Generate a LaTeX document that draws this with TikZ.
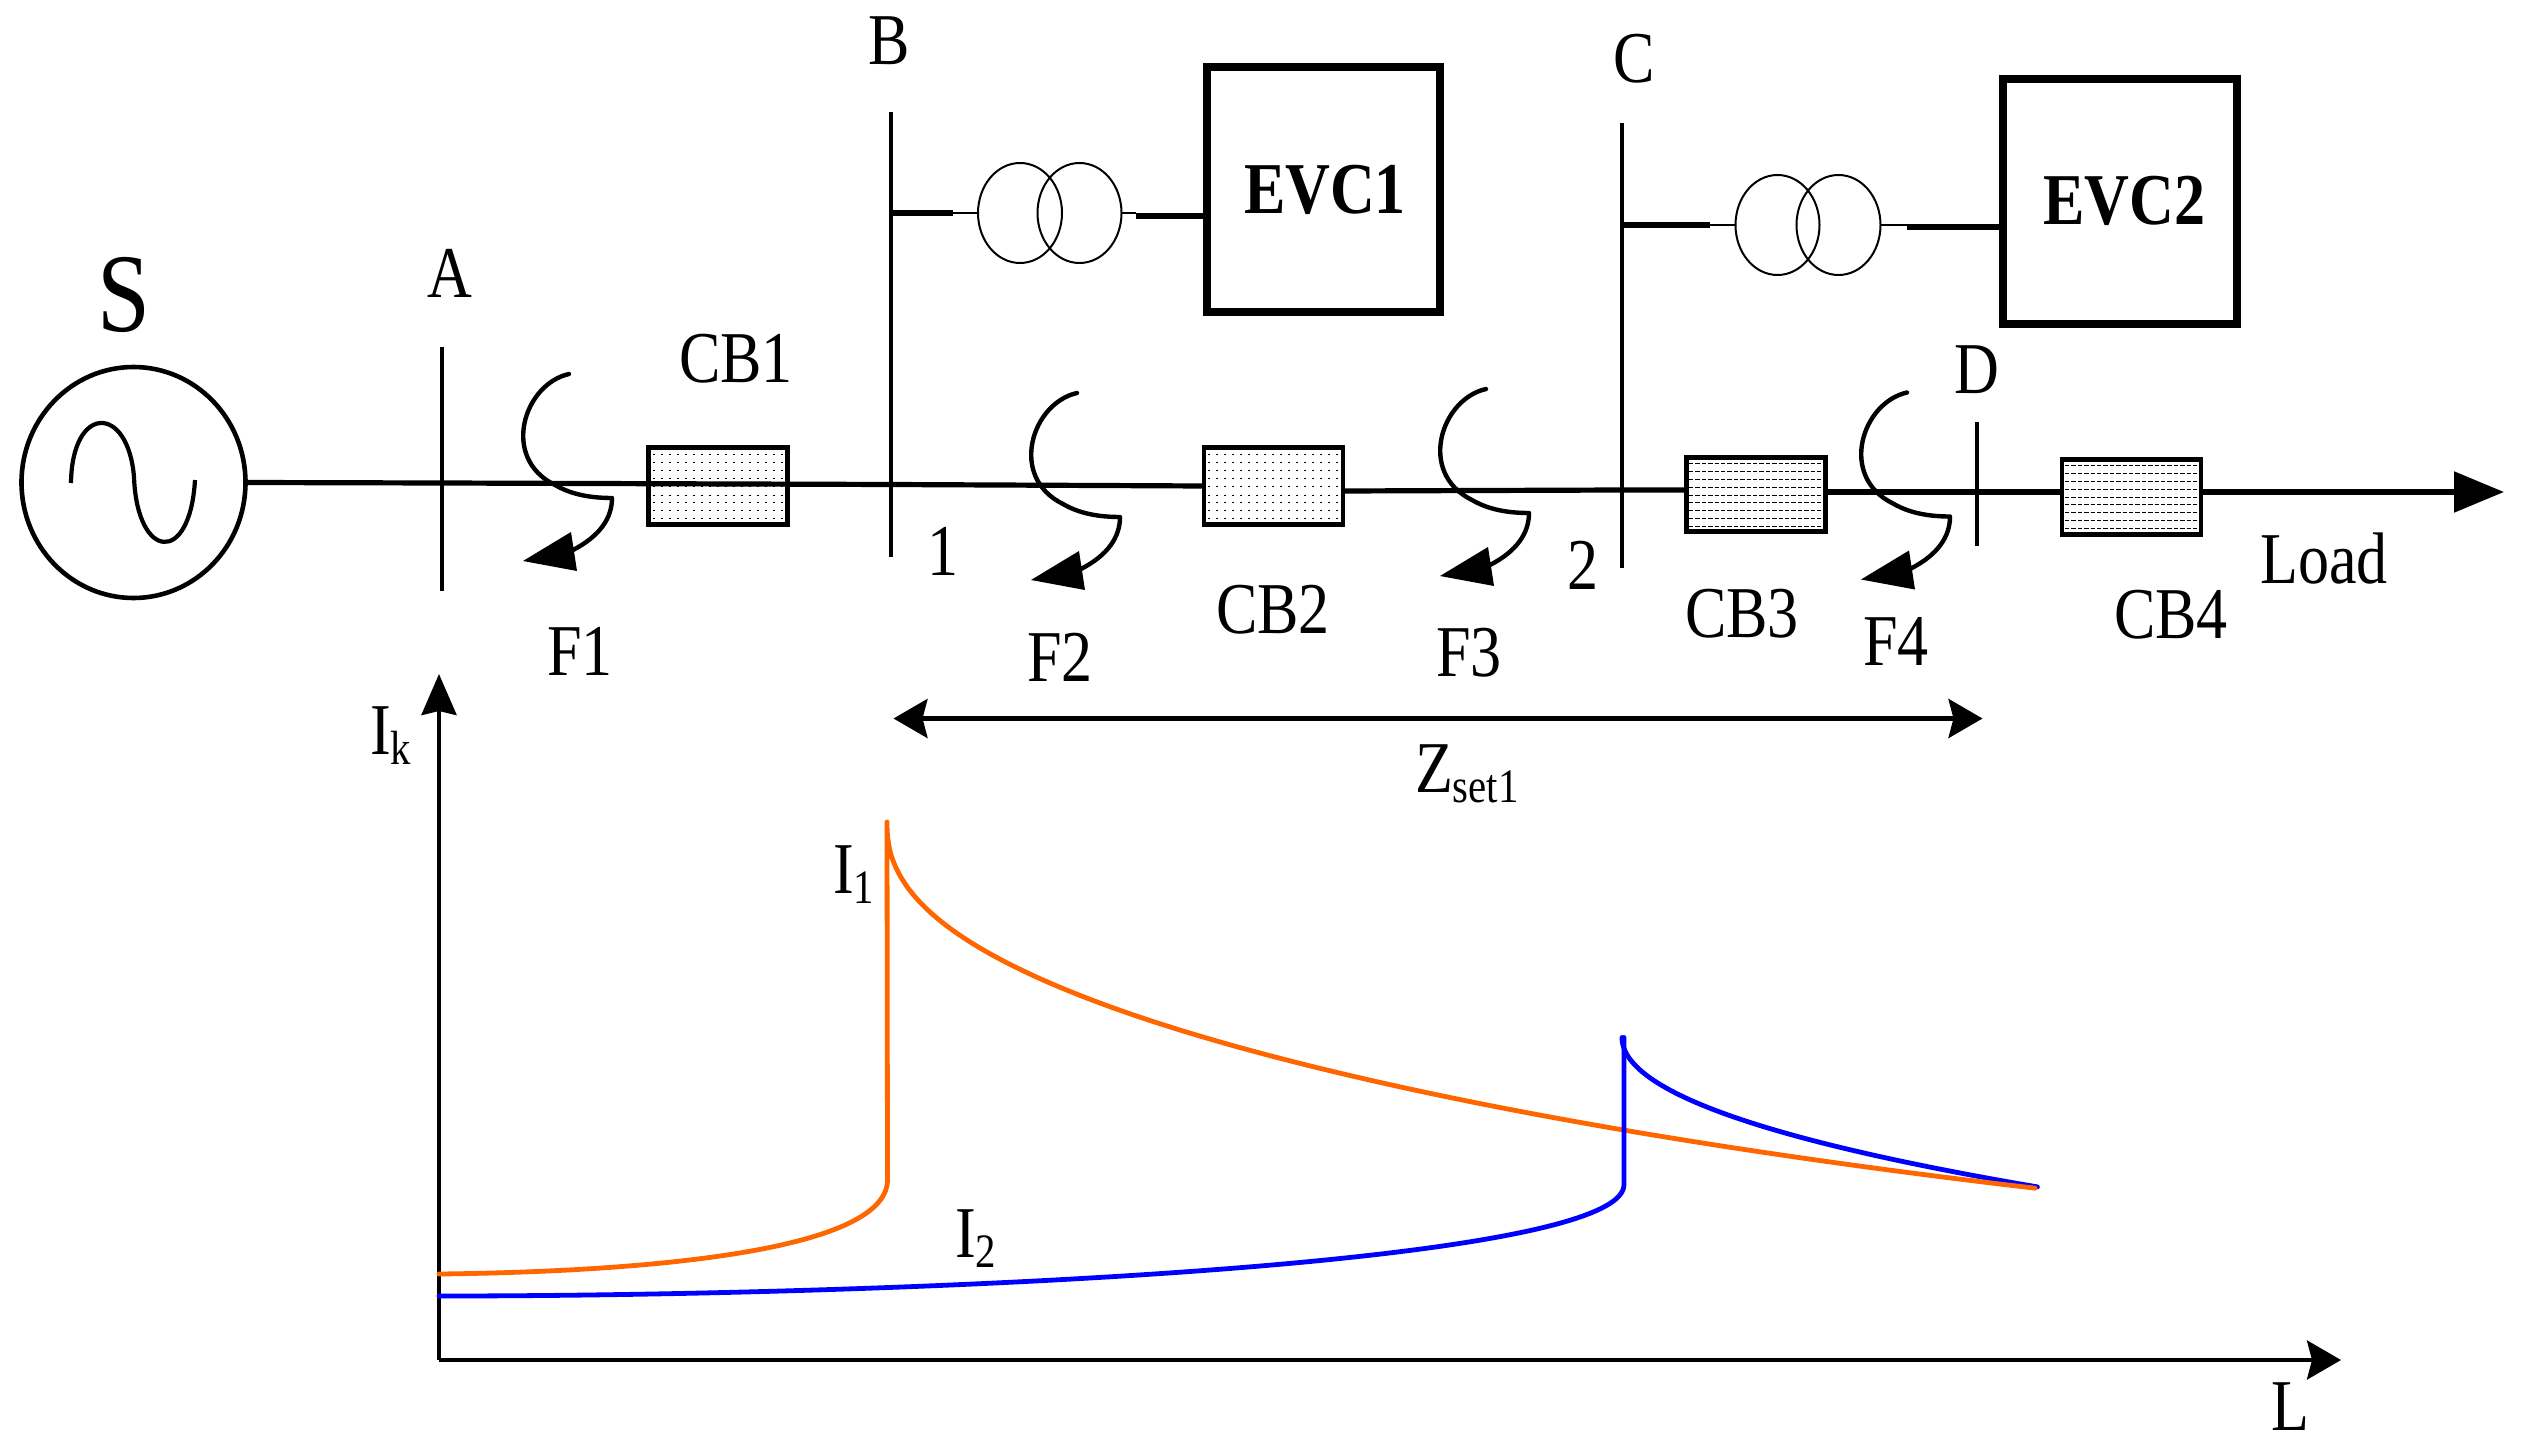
\documentclass[tikz,border=0pt]{standalone}
\usepackage{fontspec}
\setmainfont[FakeStretch=0.85]{Liberation Serif}
\usetikzlibrary{arrows.meta,shapes.geometric}
\newcommand{\lbsize}{\fontsize{36.5}{40}\selectfont}
\newcommand{\lowsub}[1]{\raisebox{-5pt}{\fontsize{24}{26}\selectfont #1}}
\definecolor{curveorange}{RGB}{255,102,0}
\definecolor{curveblue}{RGB}{0,0,255}
\tikzset{
  lab/.style={inner sep=0pt,outer sep=0pt,anchor=base,font=\lbsize},
  labw/.style={inner sep=0pt,outer sep=0pt,anchor=base west,font=\lbsize},
  blab/.style={inner sep=0pt,outer sep=0pt,anchor=base,font=\lbsize\bfseries},
  bus/.style={line width=2.1pt},
  feeder/.style={line width=2.6pt},
  thin link/.style={line width=1pt},
  thick link/.style={line width=3pt},
  cbbox/.style={draw,line width=2.4pt,inner sep=0pt,outer sep=0pt,fill=white},
  evcbox/.style={draw,line width=4pt,inner sep=0pt,outer sep=0pt},
  coil/.style={draw,ellipse,line width=1pt,inner sep=0pt,outer sep=0pt,minimum width=42pt,minimum height=50pt},
  source/.style={draw,ellipse,line width=2.3pt,inner sep=0pt,outer sep=0pt,minimum width=112pt,minimum height=115.5pt},
  axisline/.style={line width=2.1pt},
  fcurve/.style={line width=2.2pt},
  dots/.style={line width=0.5pt,dash pattern=on 1pt off 3pt},
  dashes/.style={line width=0.5pt,dash pattern=on 2.2pt off 1pt},
  curve/.style={line width=2.4pt,line cap=round,line join=round},
}
\newcommand{\faultmark}[3]{% name, x, y
  \begin{scope}[shift={(#2,#3)}]
    \coordinate (#1s) at (-43,-124);
    \coordinate (#1e) at (0,0);
    \coordinate (#1h) at (-39,52);
    \draw[fcurve,line cap=round] (#1s) .. controls (-88,-114) and (-112,-40) .. (-57,-13) .. controls (-40,-3) and (-20,0) .. (#1e);
    \draw[fcurve] (#1e) .. controls (0,20) and (-12,38) .. (#1h);
    \fill (-89,63) -- (-41,34) -- (-35,73) -- cycle;
  \end{scope}
}
\begin{document}
\begin{tikzpicture}[x=0.5pt,y=-0.5pt]
\useasboundingbox (0,0) rectangle (2521,1444);
% source
\node[source] (src) at (133.5,482.5) {};
\draw[line width=2.1pt] (71,483) .. controls (72,404) and (128,404) .. (134,477) .. controls (137,560) and (190,566) .. (195,480);
% buses
\coordinate (At) at (442,347); \coordinate (Ab) at (442,591);
\coordinate (Bt) at (891,112); \coordinate (Bb) at (891,557);
\coordinate (Ct) at (1622,123); \coordinate (Cb) at (1622,568);
\coordinate (Dt) at (1977,422); \coordinate (Db) at (1977,546);
\draw[bus] (At) -- (Ab);
\draw[bus] (Bt) -- (Bb);
\draw[bus] (Ct) -- (Cb);
\draw[bus] (Dt) -- (Db);
% breakers
\node[cbbox,minimum width=69.5pt,minimum height=38.5pt] (cb1) at (718,486) {};
\node[cbbox,minimum width=69.5pt,minimum height=38.5pt] (cb2) at (1273.5,486) {};
\node[cbbox,minimum width=69.5pt,minimum height=37pt] (cb3) at (1756,494.7) {};
\node[cbbox,minimum width=69.5pt,minimum height=37.5pt] (cb4) at (2131.5,497) {};
\foreach \r in {454,462.3,470.7,478.7,486.7,495,502.7,510.7,518.7}{
  \draw[dots] (653,\r) -- (783,\r);
  \draw[dots] (1208,\r) -- (1339,\r);
}
\foreach \r in {463.3,471,479.3,487.3,495,502.3,510,518,526}{
  \draw[dashes] (1689,\r) -- (1823,\r);
  \draw[dashes] (2065,\r+2) -- (2198,\r+2);
}
% main feeder
\coordinate (jA) at (442,483);
\coordinate (jB) at (891,484.5);
\coordinate (jC) at (1622,490);
\coordinate (jD) at (1977,492);
\draw[feeder] (src.east) -- (jA) -- (jB) -- (cb2.west |- 0,486);
\draw[feeder] (cb2.east |- 0,491) -- (jC) -- (cb3.west |- 0,490);
\draw[feeder] (cb3.east |- 0,492) -- (jD) -- (cb4.west |- 0,492);
\coordinate (loadend) at (2504,492);
\draw[feeder,-{Stealth[length=25pt,width=20pt,inset=0pt]}] (cb4.east |- 0,492) -- (loadend);
% EV chargers
\node[evcbox,minimum width=116.8pt,minimum height=122.5pt] (evc1) at (1323.5,190) {};
\node[evcbox,minimum width=117pt,minimum height=122.5pt] (evc2) at (2120,201.5) {};
\node[blab] (evc1t) at (1325,213.5) {EVC1};
\node[blab] (evc2t) at (2124,225) {EVC2};
% transformers
\node[coil] (t1a) at (1020,213) {};
\node[coil] (t1b) at (1079.5,213) {};
\node[coil] (t2a) at (1777.5,225) {};
\node[coil] (t2b) at (1838.5,225) {};
\coordinate (b1) at (891,213); \coordinate (b1k) at (953,213);
\coordinate (e1k) at (1136,216); \coordinate (e1) at (evc1.west |- 0,216);
\coordinate (c2) at (1622,225); \coordinate (c2k) at (1710,225);
\coordinate (e2k) at (1907,227); \coordinate (e2) at (2000,227);
\draw[thick link] (b1) -- (b1k);
\draw[thin link] (b1k) -- (t1a.west);
\draw[thin link] (t1b.east) -- (1136,213);
\draw[thick link] (e1k) -- (e1);
\draw[thick link] (c2) -- (c2k);
\draw[thin link] (c2k) -- (t2a.west);
\draw[thin link] (t2b.east) -- (1907,225);
\draw[thick link] (e2k) -- (e2);
% faults
\faultmark{fa}{612}{498}
\faultmark{fb}{1120}{517}
\faultmark{fc}{1529}{513}
\faultmark{fd}{1950}{516.5}
% labels
\node[lab,font=\fontsize{56}{60}\selectfont] (tS) at (124,331.5) {S};
\node[lab] (tA) at (450,297.5) {A};
\node[lab] (tB) at (889,65) {B};
\node[lab] (tC) at (1634,83) {C};
\node[lab] (tD) at (1977,393.5) {D};
\node[lab] (tCB1) at (736,383) {CB1};
\node[lab] (tCB2) at (1273,633) {CB2};
\node[lab] (tCB3) at (1742,637) {CB3};
\node[lab] (tCB4) at (2171,638) {CB4};
\node[lab] (t1) at (943,575) {1};
\node[lab] (t2) at (1583,589) {2};
\node[lab] (tF1) at (580,675) {F1};
\node[lab] (tF2) at (1060,681) {F2};
\node[lab] (tF3) at (1469,676) {F3};
\node[lab] (tF4) at (1896,665) {F4};
\node[lab] (tLoad) at (2324,583) {Load};
% zone arrow
\coordinate (zl) at (893.5,718.5);
\coordinate (zr) at (1982.5,718.5);
\draw[line width=2.2pt,{Stealth[length=17pt,width=19.5pt,inset=2.5pt]}-{Stealth[length=17pt,width=19.5pt,inset=2.5pt]}] (zl) -- (zr);
\node[labw] (tZ) at (1415,792) {Z\lowsub{set1}};
% axes
\coordinate (org) at (439,1360);
\coordinate (ytip) at (439,674);
\coordinate (xtip) at (2341,1360);
\draw[axisline,-{Stealth[length=20.5pt,width=17.5pt,inset=2pt]}] (org) -- (ytip);
\draw[axisline,-{Stealth[length=17pt,width=19.5pt,inset=2.5pt]}] (org) -- (xtip);
\node[labw] (tIk) at (370,754) {I\lowsub{k}};
\node[lab] (tL) at (2290,1430) {L};
% curves: blue tail first, then orange, then the blue rise on top
\draw[curve,curveblue] plot[domain=0:1,samples=60,smooth] ({1622+416*\x*\x},{1037.5+149.5*\x+8*\x*(1-\x)});
\draw[curve,curveorange] (439,1274) .. controls (620,1272) and (887,1255) .. (887.5,1180) -- (887,822)
  -- plot[domain=0.02:1,samples=90,smooth] ({887+1151*\x*\x*\x},{822+366.5*(pow(\x,1.29)+0.065*\x*\x*\x*(1-\x*\x*\x))});
\draw[curve,curveblue] (439,1296) .. controls (900,1296) and (1622,1265) .. (1624,1185) -- (1624,1037.5);
\node[labw] (tI1) at (833,893) {I\lowsub{1}};
\node[labw] (tI2) at (955,1257) {I\lowsub{2}};
\end{tikzpicture}
\end{document}
